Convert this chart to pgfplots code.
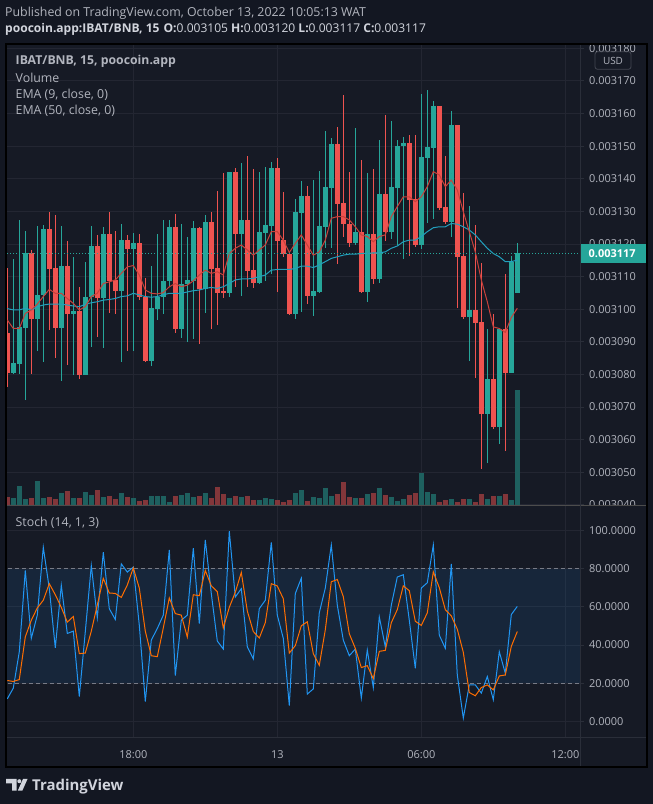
\documentclass[border=0pt]{standalone}
\usepackage{fontspec}
\setmainfont{Open Sans}
\usepackage{pgfplots}
\usepackage{pgfplotstable}
\pgfplotsset{compat=1.18}
\pgfplotsset{/pgf/number format/assume math mode=true}
\definecolor{bgout}{HTML}{131722}
\definecolor{bgpane}{HTML}{161A25}
\definecolor{gridc}{HTML}{232632}
\definecolor{sepc}{HTML}{2A2E39}
\definecolor{txt}{HTML}{B2B5BE}
\definecolor{txtw}{HTML}{D1D4DC}
\definecolor{upc}{HTML}{26A69A}
\definecolor{dnc}{HTML}{EF5350}
\definecolor{upv}{HTML}{1E605F}
\definecolor{dnv}{HTML}{82363A}
\definecolor{emaf}{HTML}{C8413B}
\definecolor{emas}{HTML}{22A0BE}
\definecolor{stk}{HTML}{2196F3}
\definecolor{std}{HTML}{FF6D00}
\definecolor{dashc}{HTML}{787B86}
\definecolor{boxc}{HTML}{434651}

% up candles: index open high low close volume
\pgfplotstableread{
i o h l c v
1 3080.5 3115.4 3080.3 3083.6 7
2 3083.2 3127.4 3080.3 3094.6 19
3 3094.4 3124.0 3072.1 3117.4 6
5 3097.1 3125.6 3087.3 3104.4 24
6 3104.4 3125.9 3083.9 3124.6 7
9 3094.3 3125.6 3078.1 3113.3 12
11 3098.6 3116.1 3079.9 3099.5 7
13 3079.9 3114.5 3079.9 3103.7 13
14 3103.7 3125.6 3088.5 3119.5 10
16 3103.5 3125.3 3088.2 3123.1 8
19 3105.7 3126.3 3083.9 3121.2 12
21 3118.6 3123.5 3087.3 3120.3 7
24 3084.2 3113.2 3082.7 3100.4 9
25 3100.2 3123.0 3096.7 3103.9 9
26 3103.9 3127.4 3098.7 3108.7 9
27 3108.7 3127.4 3106.9 3125.2 3
29 3094.0 3126.3 3091.1 3107.7 10
30 3107.7 3122.2 3090.0 3109.0 12
31 3108.7 3127.1 3091.0 3124.9 8
33 3106.2 3128.9 3098.7 3126.8 12
37 3105.1 3142.1 3103.9 3142.1 7
39 3123.1 3144.9 3104.2 3127.4 8
42 3108.1 3142.0 3107.9 3123.7 5
43 3123.5 3143.5 3108.7 3125.8 7
44 3125.5 3145.2 3110.7 3143.3 6
48 3098.5 3133.8 3097.1 3129.8 12
49 3129.6 3139.3 3099.3 3134.7 15
51 3104.1 3139.6 3098.0 3105.6 8
52 3105.4 3142.3 3104.9 3125.5 7
53 3125.3 3154.7 3118.7 3137.5 17
54 3137.3 3152.4 3118.7 3150.7 9
58 3120.3 3155.5 3119.7 3123.7 7
60 3105.3 3141.8 3102.3 3123.1 11
62 3109.3 3151.9 3108.2 3135.3 17
64 3123.8 3157.7 3121.6 3137.5 8
65 3137.3 3151.9 3119.6 3150.1 4
66 3150.1 3152.8 3115.5 3151.0 6
69 3119.8 3166.0 3118.5 3146.7 32
70 3146.5 3167.2 3126.5 3149.8 13
71 3149.6 3163.9 3127.8 3162.3 11
74 3126.9 3160.7 3122.3 3156.5 6
77 3097.7 3131.7 3084.2 3099.8 6
80 3068.0 3093.9 3052.9 3078.6 6
82 3063.9 3093.9 3058.8 3093.9 9
84 3080.5 3116.3 3080.3 3114.6 5
85 3105.1 3120.3 3104.9 3117.1 115
}\up

% down candles
\pgfplotstableread{
i o h l c v
0 3092.8 3112.5 3076.2 3080.5 8.3
4 3117.4 3118.2 3080.3 3097.1 7
7 3124.6 3129.7 3093.8 3112.4 8
8 3112.6 3128.8 3085.2 3094.3 6
10 3113.3 3120.9 3082.9 3098.6 14
12 3099.5 3106.9 3078.6 3079.9 7
15 3119.5 3122.7 3091.6 3103.6 15
17 3123.1 3129.7 3098.7 3108.7 9
18 3109.0 3124.1 3098.7 3105.7 6
20 3121.2 3122.8 3087.3 3118.6 8
22 3120.3 3123.1 3102.8 3103.9 4
23 3103.9 3109.7 3083.9 3084.2 5
28 3125.2 3129.1 3092.6 3094.0 9
32 3124.9 3125.3 3089.5 3106.2 9
34 3126.8 3129.8 3094.1 3112.4 7
35 3112.6 3136.3 3095.2 3105.1 18
36 3105.3 3141.7 3103.3 3105.1 11
38 3142.1 3143.2 3106.9 3123.1 9
40 3127.4 3147.0 3106.9 3111.8 9
41 3112.0 3143.0 3106.6 3108.1 5
45 3143.3 3146.4 3105.2 3120.9 5
46 3121.2 3136.0 3116.1 3117.1 3
47 3117.1 3117.1 3098.2 3098.5 5
50 3134.7 3137.8 3101.5 3104.1 4
55 3150.7 3155.9 3113.8 3132.4 11
56 3132.6 3165.7 3122.3 3126.2 23
57 3126.3 3142.1 3119.2 3120.3 8
59 3123.7 3145.8 3104.9 3105.3 7
61 3123.1 3143.0 3107.9 3109.3 12
63 3135.3 3159.6 3121.0 3123.8 10
67 3151.0 3153.4 3116.4 3133.6 10
68 3133.8 3153.4 3119.2 3119.8 12
72 3162.3 3162.3 3130.4 3131.2 3
73 3131.4 3147.0 3126.3 3126.9 5
75 3156.5 3156.5 3100.5 3116.1 3
76 3116.3 3135.6 3096.9 3097.7 6
78 3099.8 3125.8 3079.0 3095.9 3
79 3096.1 3114.2 3051.1 3068.0 11
81 3078.6 3098.5 3063.4 3063.9 9
83 3093.9 3110.8 3056.6 3080.5 11
}\dn

% EMA 9 and EMA 50
\pgfplotstableread{
i e9 e50
0 3096.7 3100.2
1 3094.1 3099.8
2 3094.1 3099.8
3 3098.7 3100.3
4 3099.8 3099.8
5 3101.6 3100.8
6 3103.9 3101.3
7 3106.1 3101.6
8 3104.9 3101.6
9 3104.9 3101.6
10 3103.3 3101.3
11 3101.8 3101.0
12 3099.8 3100.8
13 3100.8 3101.5
14 3103.9 3102.0
15 3104.9 3102.3
16 3107.9 3102.8
17 3108.4 3103.0
18 3109.0 3103.3
19 3111.0 3103.9
20 3113.0 3104.1
21 3113.4 3104.9
22 3110.5 3104.4
23 3105.9 3103.9
24 3104.9 3103.7
25 3104.7 3103.9
26 3105.1 3104.4
27 3106.9 3104.9
28 3107.9 3104.9
29 3106.9 3104.9
30 3107.4 3105.3
31 3108.7 3105.7
32 3110.5 3105.9
33 3112.0 3106.4
34 3111.0 3106.7
35 3111.5 3106.4
36 3110.5 3106.9
37 3117.1 3107.9
38 3118.7 3109.0
39 3119.7 3109.3
40 3118.2 3109.3
41 3116.6 3109.5
42 3118.2 3110.0
43 3119.7 3110.5
44 3123.8 3112.0
45 3123.8 3112.2
46 3121.2 3112.2
47 3117.4 3112.2
48 3120.2 3112.5
49 3122.8 3113.2
50 3119.7 3113.2
51 3116.6 3112.8
52 3117.6 3113.6
53 3121.2 3114.6
54 3127.9 3115.6
55 3128.4 3116.1
56 3128.4 3116.6
57 3127.4 3116.9
58 3125.3 3116.9
59 3122.8 3117.1
60 3122.3 3117.1
61 3120.7 3117.3
62 3122.3 3117.3
63 3122.8 3117.6
64 3128.4 3118.7
65 3131.5 3119.4
66 3134.5 3120.7
67 3134.5 3121.2
68 3133.0 3121.2
69 3134.5 3122.3
70 3137.6 3123.8
71 3142.2 3125.0
72 3141.2 3125.3
73 3137.6 3125.3
74 3139.6 3126.3
75 3136.6 3126.1
76 3129.9 3125.3
77 3123.8 3124.3
78 3117.6 3122.8
79 3109.0 3120.7
80 3102.3 3118.7
81 3094.6 3117.1
82 3094.1 3116.1
83 3092.9 3114.6
84 3097.5 3114.6
85 3100.3 3115.1
}\ema

% Stochastic %K and %D
\pgfplotstableread{
i k d
0 11.8 21.4
1 17.4 20.9
2 36.5 21.9
3 79.1 44.3
4 43.5 53.0
5 55.7 59.5
6 91.3 63.5
7 69.6 72.2
8 38.6 66.4
9 71.3 59.8
10 46.1 52.0
11 47.3 55.0
12 13.0 35.5
13 47.0 35.8
14 81.7 47.3
15 54.3 61.0
16 88.7 75.0
17 59.1 67.3
18 53.4 67.1
19 82.6 65.0
20 78.3 71.5
21 80.9 80.5
22 50.4 69.9
23 10.4 47.3
24 42.6 34.4
25 48.7 33.9
26 55.7 49.0
27 89.9 64.7
28 24.0 56.5
29 53.0 55.7
30 55.7 44.2
31 90.8 66.4
32 51.3 65.9
33 95.1 79.1
34 67.0 71.1
35 42.1 68.0
36 37.9 49.0
37 99.7 59.8
38 65.2 67.7
39 69.6 78.1
40 39.1 57.9
41 32.7 47.1
42 59.1 43.7
43 63.5 51.8
44 93.9 72.2
45 55.7 71.0
46 43.5 64.3
47 8.3 35.8
48 67.0 39.7
49 75.1 50.1
50 14.3 52.2
51 17.0 35.5
52 57.0 29.4
53 69.9 48.0
54 92.5 73.2
55 60.9 74.4
56 42.6 65.4
57 34.4 45.9
58 37.9 38.3
59 12.2 28.2
60 37.4 29.2
61 17.7 22.4
62 54.8 36.7
63 39.1 37.2
64 60.9 51.7
65 75.7 58.6
66 76.9 71.1
67 53.0 68.5
68 27.8 52.5
69 69.9 50.3
70 72.7 56.9
71 92.5 78.4
72 45.2 70.1
73 38.3 58.6
74 82.6 55.3
75 24.3 48.3
76 1.7 36.2
77 19.1 15.1
78 19.1 13.4
79 14.8 17.7
80 23.5 19.1
81 11.3 16.5
82 36.5 23.8
83 25.2 24.3
84 56.0 39.3
85 60.3 47.1
}\sto

\pgfplotsset{
  candle/.style n args={2}{only marks, mark=*, mark size=0pt, mark options={draw=none, fill=none}, forget plot,
    error bars/.cd, y dir=both, y explicit, error mark=none,
    error bar style={line width=#1, draw=#2}},
}

\begin{document}
\begin{tikzpicture}
\fill[bgout] (0,0) rectangle (653bp,804bp);
\useasboundingbox (0,0) rectangle (653bp,804bp);
\fill[bgpane] (6bp,37bp) rectangle (647bp,760bp);

% ---------- main price pane ----------
\begin{axis}[
  at={(7bp,298.5bp)}, anchor=south west, scale only axis,
  width=573bp, height=461.5bp,
  xmin=-0.05, xmax=95.45, ymin=3039.82, ymax=3181.35,
  axis line style={draw=none},
  xtick={21,45,69,93}, xticklabel=\empty, xtick style={draw=none},
  ytick={3040,3050,...,3180}, scaled y ticks=false,
  xmajorgrids, ymajorgrids, grid style={gridc, line width=1bp},
  ytick pos=right, yticklabel pos=right, tick align=outside, major tick length=4bp,
  ytick style={sepc, line width=1bp},
  yticklabel={0.00\pgfmathprintnumber[fixed,precision=0,1000 sep={}]{\tick}},
  yticklabel style={font=\fontsize{11}{12}\selectfont, text=txt, inner sep=0pt, anchor=west, xshift=5bp},
]
% wicks
\addplot[candle={1bp}{upc}]
  table[x=i, y expr={(\thisrow{h}+\thisrow{l})/2}, y error expr={(\thisrow{h}-\thisrow{l})/2}] {\up};
\addplot[candle={1bp}{dnc}]
  table[x=i, y expr={(\thisrow{h}+\thisrow{l})/2}, y error expr={(\thisrow{h}-\thisrow{l})/2}] {\dn};
% bodies
\addplot[candle={4.5bp}{upc}]
  table[x=i, y expr={(\thisrow{o}+\thisrow{c})/2}, y error expr={max(abs(\thisrow{c}-\thisrow{o})/2,0.25)}] {\up};
\addplot[candle={4.5bp}{dnc}]
  table[x=i, y expr={(\thisrow{o}+\thisrow{c})/2}, y error expr={max(abs(\thisrow{c}-\thisrow{o})/2,0.25)}] {\dn};
% EMAs
\addplot[emas, line width=1bp] table[x=i, y=e50] {\ema};
\addplot[emaf, line width=1bp] table[x=i, y=e9] {\ema};
% last price line
\addplot[upc, line width=0.8bp, dash pattern=on 1bp off 2bp] coordinates {(-0.05,3117.1) (95.45,3117.1)};
\end{axis}

% ---------- volume ----------
\begin{axis}[
  at={(7bp,298.5bp)}, anchor=south west, scale only axis,
  width=573bp, height=461.5bp,
  xmin=-0.05, xmax=95.45, ymin=0, ymax=461.5, hide axis]
\addplot[ycomb, upv, line width=4.5bp] table[x=i, y=v] {\up};
\addplot[ycomb, dnv, line width=4.5bp] table[x=i, y=v] {\dn};
\end{axis}

% masks for clipped price labels
\fill[bgout] (0,760.5bp) rectangle (653bp,804bp);
\fill[bgpane] (6bp,37bp) rectangle (647bp,298bp);

% current price tag
\fill[upc] (580bp,541.3bp) rectangle (646bp,559.7bp);
\node[anchor=west, text=white, font=\bfseries\fontsize{11}{12}\selectfont, inner sep=0pt] at (588.5bp,550.5bp) {0.003117};

% ---------- stochastic pane ----------
\begin{axis}[
  at={(7bp,66bp)}, anchor=south west, scale only axis,
  width=573bp, height=232bp,
  xmin=-0.05, xmax=95.45, ymin=-8.76, ymax=112.96,
  axis line style={draw=none},
  xtick={21,45,69,93}, xticklabels={18:00,13,06:00,12:00},
  xtick style={draw=none},
  xticklabel style={font=\fontsize{11}{12}\selectfont, text=txt, anchor=base, yshift=-17bp},
  ytick={0,20,...,100},
  xmajorgrids, ymajorgrids, grid style={gridc, line width=1bp},
  ytick pos=right, yticklabel pos=right, tick align=outside, major tick length=4bp,
  ytick style={sepc, line width=1bp},
  yticklabel={\pgfmathprintnumber[fixed,fixed zerofill,precision=4]{\tick}},
  yticklabel style={font=\fontsize{11}{12}\selectfont, text=txt, inner sep=0pt, anchor=west, xshift=5bp},
]
\fill[stk, opacity=0.1] (axis cs:-1,20) rectangle (axis cs:96,80);
\draw[dashc, line width=0.8bp, dash pattern=on 4bp off 3bp] (axis cs:-1,80) -- (axis cs:96,80);
\draw[dashc, line width=0.8bp, dash pattern=on 4bp off 3bp] (axis cs:-1,20) -- (axis cs:96,20);
\addplot[stk, line width=1bp] table[x=i, y=k] {\sto};
\addplot[std, line width=1bp] table[x=i, y=d] {\sto};
\end{axis}

% separators and frame
\draw[black!70, line width=1bp] (6bp,298.5bp) -- (647bp,298.5bp);
\draw[sepc, line width=1bp] (6bp,66bp) -- (647bp,66bp);
\draw[sepc, line width=1bp] (580.5bp,37bp) -- (580.5bp,760bp);
\draw[black, line width=1.2bp] (6bp,37bp) rectangle (647bp,760bp);

% USD box
\draw[boxc, rounded corners=2.5bp, line width=0.8bp] (595bp,734.7bp) rectangle (631bp,752.3bp);
\node[text=txt, font=\fontsize{10}{12}\selectfont, inner sep=0pt] at (613bp,743.5bp) {USD};

% header
\node[anchor=west, text=txt, font=\fontsize{12.4}{14}\selectfont, inner sep=0pt] at (5bp,791bp) {Published on TradingView.com, October 13, 2022 10:05:13 WAT};
\node[anchor=west, text=txtw, font=\fontsize{12.1}{14}\selectfont, inner sep=0pt] at (5bp,775bp) {\textbf{poocoin.app:IBAT/BNB, 15}\hspace{4bp}\textbf{O:}0.003105 \textbf{H:}0.003120 \textbf{L:}0.003117 \textbf{C:}0.003117};

% legends
\node[anchor=west, text=txt, font=\bfseries\fontsize{12.3}{14}\selectfont, inner sep=0pt] at (15.5bp,743bp) {IBAT/BNB, 15, poocoin.app};
\node[anchor=west, text=txt, font=\fontsize{12.4}{14}\selectfont, inner sep=0pt] at (15.5bp,726bp) {Volume};
\node[anchor=west, text=txt, font=\fontsize{12.4}{14}\selectfont, inner sep=0pt] at (15.5bp,709bp) {EMA (9, close, 0)};
\node[anchor=west, text=txt, font=\fontsize{12.4}{14}\selectfont, inner sep=0pt] at (15.5bp,693bp) {EMA (50, close, 0)};
\node[anchor=west, text=txt, font=\fontsize{12.4}{14}\selectfont, inner sep=0pt] at (15.5bp,281bp) {Stoch (14, 1, 3)};

% TradingView logo
\fill[txtw] (6bp,25bp) -- (16.5bp,25bp) -- (16.5bp,13.3bp) -- (12bp,13.3bp) -- (12bp,20.5bp) -- (6bp,20.5bp) -- cycle;
\fill[txtw] (19.3bp,22.8bp) circle (2bp);
\fill[txtw] (23bp,25bp) -- (27.5bp,25bp) -- (22.3bp,13.3bp) -- (17.8bp,13.3bp) -- cycle;
\node[anchor=base west, text=txtw, font=\bfseries\fontsize{15}{16}\selectfont, inner sep=0pt] at (32bp,13.3bp) {TradingView};
\end{tikzpicture}
\end{document}
